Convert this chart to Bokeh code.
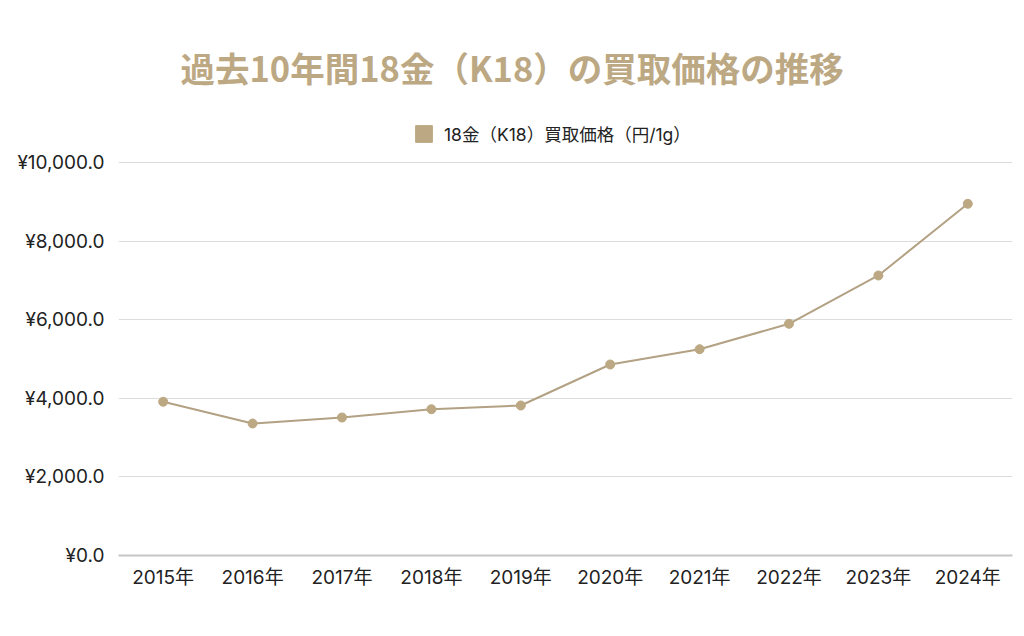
from bokeh.plotting import figure
from bokeh.models import (FactorRange, Range1d, FixedTicker, CustomJSTickFormatter,
                          Legend, LegendItem, Title, ColumnDataSource)
from bokeh.embed import file_html
from bokeh.resources import INLINE

years = ["2015年", "2016年", "2017年", "2018年", "2019年", "2020年", "2021年", "2022年", "2023年", "2024年"]
prices = [3912, 3359, 3511, 3722, 3817, 4860, 5249, 5896, 7125, 8949]
y_ticks = [0, 2000, 4000, 6000, 8000, 10000]
title_text = "過去10年間18金（K18）の買取価格の推移"
series_name = "18金（K18）買取価格（円/1g）"

GOLD = "#bca883"
LINE = "#b3a184"
FONT = "Inter, 'Noto Sans CJK JP'"

# frame spans y 115..555 px; 10000 sits at 162 px
Y_TOP = 11196

p = figure(width=1020, height=628, x_range=FactorRange(*years), y_range=Range1d(0, Y_TOP),
           output_backend="svg", toolbar_location=None, title=None,
           min_border_left=118, min_border_right=8, min_border_bottom=73, min_border_top=115)
p.outline_line_color = None
p.background_fill_color = "white"
p.border_fill_color = "white"

src = ColumnDataSource(dict(x=years, y=prices))
p.line("x", "y", source=src, line_color=LINE, line_width=2)
p.scatter("x", "y", source=src, size=9, fill_color=GOLD, line_color=GOLD)

# legend swatch
sw = p.quad(left=[0], right=[0], top=[float("nan")], bottom=[float("nan")],
            fill_color=GOLD, line_color=GOLD)
legend = Legend(items=[LegendItem(label=series_name, renderers=[sw])],
                orientation="horizontal", location=(295, 409),
                glyph_width=21, glyph_height=21, label_text_font=FONT,
                label_text_font_size="17.5px", label_text_color="#222222",
                border_line_color=None, background_fill_alpha=0,
                margin=0, padding=2, label_standoff=10)
p.add_layout(legend, "center")

t = Title(text=title_text, align="left", text_font="'Noto Sans CJK JP'",
          text_font_size="34.5px", text_font_style="bold", text_color=GOLD,
          standoff=47, offset=62)
p.add_layout(t, "above")

p.yaxis.ticker = FixedTicker(ticks=y_ticks)
p.yaxis.formatter = CustomJSTickFormatter(code="""
return '¥' + tick.toLocaleString('en-US', {minimumFractionDigits: 1, maximumFractionDigits: 1});
""")
p.yaxis.axis_line_color = None
p.yaxis.major_tick_line_color = None
p.yaxis.minor_tick_line_color = None
p.yaxis.major_label_standoff = 8
p.yaxis.major_label_text_font = FONT
p.yaxis.major_label_text_font_size = "19px"
p.yaxis.major_label_text_color = "#222222"

p.xaxis.axis_line_color = "#c6c6c6"
p.xaxis.axis_line_width = 2
p.xaxis.major_tick_line_color = None
p.xaxis.minor_tick_line_color = None
p.xaxis.major_label_standoff = 4
p.xaxis.major_label_text_font = FONT
p.xaxis.major_label_text_font_size = "19px"
p.xaxis.major_label_text_color = "#222222"

p.xgrid.grid_line_color = None
p.ygrid.grid_line_color = "#dcdcdc"
p.ygrid.grid_line_width = 1

open("out.html", "w").write(file_html(p, INLINE))
